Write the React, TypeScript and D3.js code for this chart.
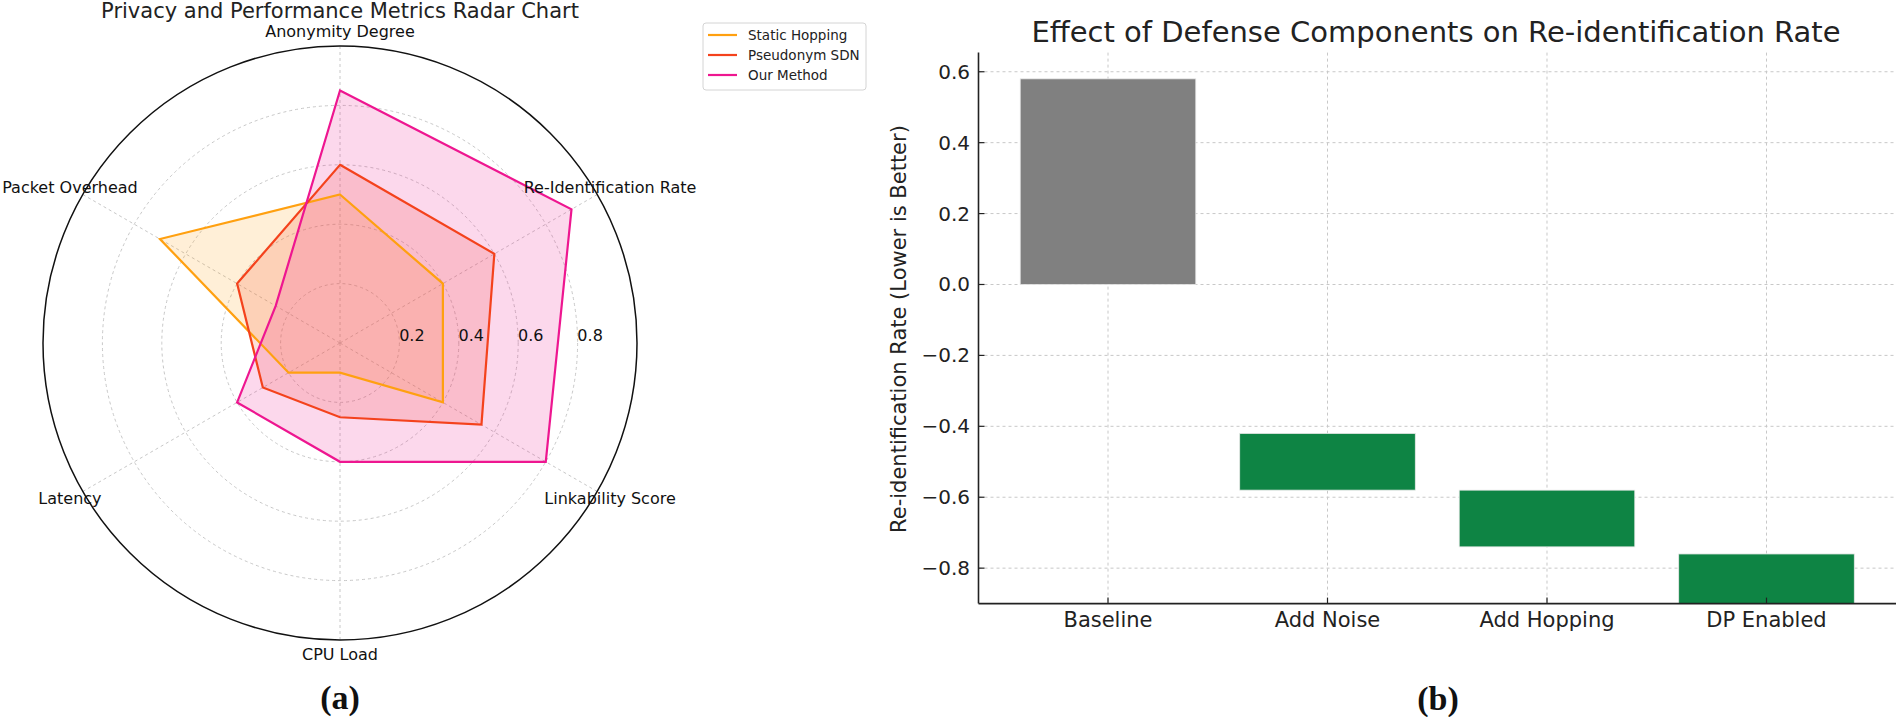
import React from "react";
import * as d3 from "d3";

// radar data
const radarAxes = [
  "Anonymity Degree",
  "Re-Identification Rate",
  "Linkability Score",
  "CPU Load",
  "Latency",
  "Packet Overhead",
];
const staticHopping = [0.5, 0.4, 0.4, 0.1, 0.2, 0.7];
const pseudonymSDN = [0.6, 0.6, 0.55, 0.25, 0.3, 0.4];
const ourMethod = [0.85, 0.9, 0.8, 0.4, 0.4, 0.25];
const seriesNames = ["Static Hopping", "Pseudonym SDN", "Our Method"];
const seriesColors = ["#ffa010", "#f4421c", "#ee1690"];
const ringTicks = [0.2, 0.4, 0.6, 0.8];

// bar data
const components = ["Baseline", "Add Noise", "Add Hopping", "DP Enabled"];
const barTop = [0.58, -0.42, -0.58, -0.76];
const barBottom = [0, -0.58, -0.74, -0.9];
const barColors = ["#808080", "#0e8444", "#0e8444", "#0e8444"];

const FONT = "DejaVu Sans, sans-serif";

function Radar() {
  const cx = 340;
  const cy = 343;
  const r = d3.scaleLinear().domain([0, 1]).range([0, 297]);
  const angle = (i: number) => (i * 2 * Math.PI) / radarAxes.length;
  const pt = (i: number, v: number) => [
    cx + r(v) * Math.sin(angle(i)),
    cy - r(v) * Math.cos(angle(i)),
  ];
  const line = d3
    .lineRadial<number>()
    .angle((_, i) => angle(i))
    .radius((d) => r(d))
    .curve(d3.curveLinearClosed);
  const all = [staticHopping, pseudonymSDN, ourMethod];

  return (
    <g fontFamily={FONT}>
      <text x={cx} y={18} textAnchor="middle" fontSize={21} fill="#222">
        Privacy and Performance Metrics Radar Chart
      </text>
      {ringTicks.map((t) => (
        <circle key={t} cx={cx} cy={cy} r={r(t)} fill="none" stroke="#c8c8c8" strokeDasharray="3,3" strokeWidth={1} />
      ))}
      {radarAxes.map((a, i) => {
        const [x, y] = pt(i, 1);
        return <line key={a} x1={cx} y1={cy} x2={x} y2={y} stroke="#c8c8c8" strokeDasharray="3,3" strokeWidth={1} />;
      })}
      <g transform={`translate(${cx},${cy})`}>
        {all.map((s, k) => (
          <path key={k} d={line(s) || ""} fill={seriesColors[k]} fillOpacity={0.17} stroke="none" />
        ))}
        {all.map((s, k) => (
          <path key={"l" + k} d={line(s) || ""} fill="none" stroke={seriesColors[k]} strokeWidth={2.2} strokeLinejoin="miter" />
        ))}
      </g>
      <circle cx={cx} cy={cy} r={r(1)} fill="none" stroke="#111" strokeWidth={1.5} />
      {ringTicks.map((t) => (
        <text key={t} x={cx + r(t) + 12.5} y={341} textAnchor="middle" fontSize={16} fill="#111">
          {t.toFixed(1)}
        </text>
      ))}
      {radarAxes.map((a, i) => {
        const [x, y] = pt(i, 1.05);
        return (
          <text key={a} x={x} y={y} textAnchor="middle" dominantBaseline="central" fontSize={16} fill="#111">
            {a}
          </text>
        );
      })}
      <g transform="translate(703,23)">
        <rect x={0} y={0} width={163} height={67} rx={3} fill="#fff" stroke="#d4d4d4" strokeWidth={1} />
        {seriesNames.map((n, k) => (
          <g key={n} transform={`translate(0,${12 + k * 20})`}>
            <line x1={5} x2={34} y1={0} y2={0} stroke={seriesColors[k]} strokeWidth={2.2} />
            <text x={45} y={0} dominantBaseline="central" fontSize={13.5} fill="#222">
              {n}
            </text>
          </g>
        ))}
      </g>
      <text x={cx} y={709} textAnchor="middle" fontSize={34} fontWeight="bold" fontFamily="Liberation Serif, serif" fill="#111">
        (a)
      </text>
    </g>
  );
}

function Bars() {
  const left = 978.5;
  const right = 1896;
  const top = 52.6;
  const bottom = 603.6;
  const x = d3.scalePoint<string>().domain(components).range([left, right]).padding(0.59);
  const bw = x.step() * 0.8;
  const y = d3.scaleLinear().domain([-0.9, 0.654]).range([bottom, top]);
  const ticks = d3.range(-0.8, 0.61, 0.2);
  const fmt = d3.format(".1f");

  return (
    <g fontFamily={FONT}>
      <text x={1436} y={42} textAnchor="middle" fontSize={29} fill="#222">
        Effect of Defense Components on Re-identification Rate
      </text>
      {ticks.map((t) => (
        <line key={t} x1={left} x2={right} y1={y(t)} y2={y(t)} stroke="#c8c8c8" strokeDasharray="3,3" strokeWidth={1} />
      ))}
      {components.map((c) => (
        <line key={c} x1={x(c)} x2={x(c)} y1={top} y2={bottom} stroke="#c8c8c8" strokeDasharray="3,3" strokeWidth={1} />
      ))}
      {components.map((c, i) => (
        <rect
          key={c}
          x={(x(c) as number) - bw / 2}
          y={y(barTop[i])}
          width={bw}
          height={y(barBottom[i]) - y(barTop[i])}
          fill={barColors[i]}
          stroke="#e8e8e8"
          strokeWidth={0.8}
        />
      ))}
      <line x1={left} x2={left} y1={top} y2={bottom} stroke="#222" strokeWidth={1.6} />
      <line x1={left} x2={right} y1={bottom} y2={bottom} stroke="#222" strokeWidth={1.6} />
      {ticks.map((t) => (
        <g key={t}>
          <line x1={left} x2={left + 6} y1={y(t)} y2={y(t)} stroke="#222" strokeWidth={1.2} />
          <text x={970} y={y(t)} textAnchor="end" dominantBaseline="central" fontSize={20} fill="#222">
            {fmt(t)}
          </text>
        </g>
      ))}
      {components.map((c) => (
        <g key={c}>
          <line x1={x(c)} x2={x(c)} y1={bottom} y2={bottom - 6} stroke="#222" strokeWidth={1.2} />
          <text x={x(c)} y={627} textAnchor="middle" fontSize={21} fill="#222">
            {c}
          </text>
        </g>
      ))}
      <text transform="translate(899,329) rotate(-90)" textAnchor="middle" dominantBaseline="central" fontSize={21} fill="#222">
        Re-identification Rate (Lower is Better)
      </text>
      <text x={1438} y={710} textAnchor="middle" fontSize={34} fontWeight="bold" fontFamily="Liberation Serif, serif" fill="#111">
        (b)
      </text>
    </g>
  );
}

export default function App() {
  return (
    <svg
      width={1896}
      height={717}
      style={{ position: "absolute", left: 0, top: 0, background: "#fff" }}
    >
      <Radar />
      <Bars />
    </svg>
  );
}
